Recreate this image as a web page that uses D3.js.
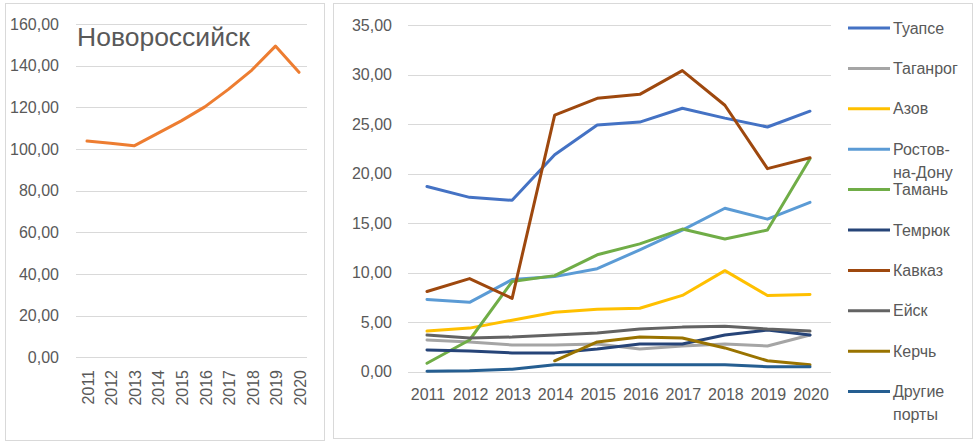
<!DOCTYPE html>
<html lang="ru">
<head>
<meta charset="UTF-8" />
<script src="https://cdnjs.cloudflare.com/ajax/libs/d3/7.8.5/d3.min.js"></script>
<style>
body { margin: 0; background: #fff; }
svg text { font-family: "Liberation Sans", Arial, sans-serif; fill: #595959; }
</style>
</head>
<body>
<svg id="chart" width="979" height="443"></svg>
<script>
// data
const years = ['2011', '2012', '2013', '2014', '2015', '2016', '2017', '2018', '2019', '2020'];
const novorossiysk = [103.8, 102.8, 101.5, 107.5, 113.5, 120.2, 128.6, 137.9, 149.4, 136.8];

const leftTicks = [0, 20, 40, 60, 80, 100, 120, 140, 160];
const rightTicks = [0, 5, 10, 15, 20, 25, 30, 35];

const portNames = ['Туапсе', 'Таганрог', 'Азов', 'Ростов-на-Дону', 'Тамань', 'Темрюк', 'Кавказ', 'Ейск', 'Керчь', 'Другие порты'];
const tuapse   = [18.7, 17.6, 17.3, 21.9, 24.9, 25.2, 26.6, 25.6, 24.7, 26.3];
const taganrog = [3.2, 3.0, 2.7, 2.7, 2.8, 2.3, 2.6, 2.8, 2.6, 3.7];
const azov     = [4.1, 4.4, 5.2, 6.0, 6.3, 6.4, 7.7, 10.2, 7.7, 7.8];
const rostov   = [7.3, 7.0, 9.3, 9.6, 10.4, 12.3, 14.3, 16.5, 15.4, 17.1];
const taman    = [0.85, 3.2, 9.1, 9.7, 11.8, 12.9, 14.4, 13.4, 14.3, 21.5];
const temryuk  = [2.2, 2.1, 1.9, 1.9, 2.3, 2.8, 2.8, 3.7, 4.2, 3.7];
const kavkaz   = [8.1, 9.4, 7.4, 25.9, 27.6, 28.0, 30.4, 26.9, 20.5, 21.6];
const yeysk    = [3.7, 3.4, 3.5, 3.7, 3.9, 4.3, 4.5, 4.6, 4.3, 4.1];
const kerch    = [null, null, null, 1.1, 3.0, 3.5, 3.4, 2.4, 1.1, 0.7];
const others   = [0.05, 0.1, 0.25, 0.7, 0.7, 0.7, 0.7, 0.7, 0.5, 0.5];

const portValues = [tuapse, taganrog, azov, rostov, taman, temryuk, kavkaz, yeysk, kerch, others];
const portColors = ['#4472C4', '#A5A5A5', '#FFC000', '#5B9BD5', '#70AD47', '#264478', '#9E480E', '#636363', '#997300', '#255E91'];

const svg = d3.select('#chart');
const fmt = d => d3.format('.2f')(d).replace('.', ',');

// panels
svg.append('rect').attr('x', 5.5).attr('y', 3.5).attr('width', 319).attr('height', 437)
  .attr('fill', '#fff').attr('stroke', '#d9d9d9');
svg.append('rect').attr('x', 333.5).attr('y', 3.5).attr('width', 639).attr('height', 435)
  .attr('fill', '#fff').attr('stroke', '#d9d9d9');

// ---- left chart: Новороссийск
const xL = d3.scalePoint().domain(years).range([87, 299]);
const yL = d3.scaleLinear().domain([0, 160]).range([357.3, 24]);

const gL = svg.append('g');
gL.selectAll('line.grid').data(leftTicks).join('line')
  .attr('x1', 76).attr('x2', 307)
  .attr('y1', d => Math.round(yL(d)) + 0.5).attr('y2', d => Math.round(yL(d)) + 0.5)
  .attr('stroke', '#d9d9d9');
gL.selectAll('text.ytick').data(leftTicks).join('text')
  .attr('x', 59).attr('y', d => yL(d)).attr('dy', '0.35em')
  .attr('text-anchor', 'end').style('font-size', '16px')
  .text(fmt);
gL.selectAll('text.xtick').data(years).join('text')
  .attr('transform', d => `translate(${xL(d) + 1},370) rotate(-90)`)
  .attr('dy', '0.36em')
  .attr('text-anchor', 'end').style('font-size', '16px')
  .text(d => d);
gL.append('path')
  .datum(novorossiysk)
  .attr('fill', 'none').attr('stroke', '#ED7D31').attr('stroke-width', 3)
  .attr('stroke-linejoin', 'round').attr('stroke-linecap', 'round')
  .attr('d', d3.line().x((d, i) => xL(years[i])).y(d => yL(d)));
gL.append('text').attr('x', 77).attr('y', 46)
  .style('font-size', '26.5px').text('Новороссийск');

// ---- right chart: other ports
const xR = d3.scalePoint().domain(years).range([427, 810]);
const yR = d3.scaleLinear().domain([0, 35]).range([371.7, 25]);

const gR = svg.append('g');
gR.selectAll('line.grid').data(rightTicks).join('line')
  .attr('x1', 408).attr('x2', 831)
  .attr('y1', d => Math.round(yR(d)) + 0.5).attr('y2', d => Math.round(yR(d)) + 0.5)
  .attr('stroke', '#d9d9d9');
gR.selectAll('text.ytick').data(rightTicks).join('text')
  .attr('x', 392).attr('y', d => yR(d)).attr('dy', '0.35em')
  .attr('text-anchor', 'end').style('font-size', '16px')
  .text(fmt);
gR.selectAll('text.xtick').data(years).join('text')
  .attr('x', d => xR(d) + 1).attr('y', 400)
  .attr('text-anchor', 'middle').style('font-size', '16px')
  .text(d => d);

const lineR = d3.line()
  .defined(d => d != null)
  .x((d, i) => xR(years[i]))
  .y(d => yR(d));

gR.selectAll('path.series').data(portValues).join('path')
  .attr('fill', 'none')
  .attr('stroke', (d, i) => portColors[i])
  .attr('stroke-width', 3)
  .attr('stroke-linejoin', 'round').attr('stroke-linecap', 'round')
  .attr('d', lineR);

// legend
const legendY = d3.scaleLinear().domain([0, 9]).range([28, 391.6]);
const lg = svg.append('g');
portNames.forEach((name, i) => {
  const y = legendY(i);
  lg.append('line').attr('x1', 848).attr('x2', 890).attr('y1', y).attr('y2', y)
    .attr('stroke', portColors[i]).attr('stroke-width', 3);
  let lines = [name];
  if (name === 'Ростов-на-Дону') lines = ['Ростов-', 'на-Дону'];
  if (name === 'Другие порты') lines = ['Другие', 'порты'];
  const t = lg.append('text').attr('x', 893).attr('y', y).style('font-size', '16px');
  lines.forEach((s, k) => {
    t.append('tspan').attr('x', 893).attr('dy', k === 0 ? '0.35em' : '1.45em').text(s);
  });
});
</script>
</body>
</html>
